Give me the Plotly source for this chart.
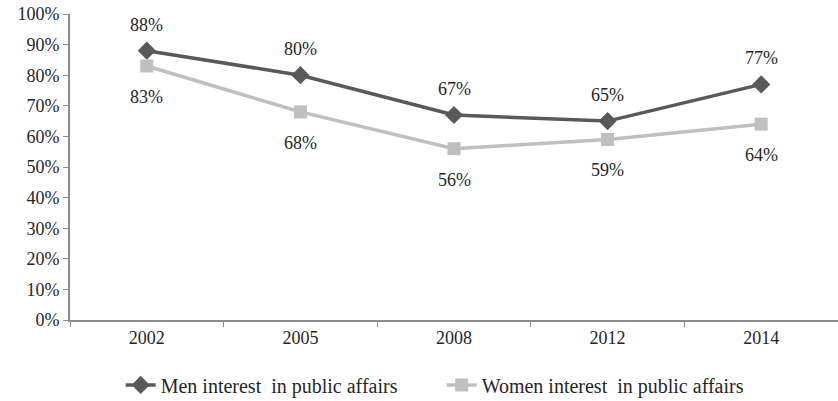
import plotly.graph_objects as go

years = ["2002", "2005", "2008", "2012", "2014"]
men = [88, 80, 67, 65, 77]
women = [83, 68, 56, 59, 64]
y_ticks = list(range(0, 101, 10))

font = "Liberation Serif"
axis_color = "#8c8c8c"
text_color = "#262626"

fig = go.Figure()
fig.add_trace(go.Scatter(
    x=years, y=men, mode="lines+markers",
    name="Men interest  in public affairs",
    line=dict(color="#595959", width=3.5),
    marker=dict(symbol="diamond", size=14, color="#595959"),
    legend="legend",
))
fig.add_trace(go.Scatter(
    x=years, y=women, mode="lines+markers",
    name="Women interest  in public affairs",
    line=dict(color="#bfbfbf", width=3.5),
    marker=dict(symbol="square", size=13, color="#bfbfbf"),
    legend="legend2",
))

# value labels: men above the points, women below (category axis uses index positions)
for i, v in enumerate(men):
    fig.add_annotation(x=i, y=v, text=f"{v}%", showarrow=False, yshift=26,
                       font=dict(family=font, size=18, color=text_color))
for i, v in enumerate(women):
    fig.add_annotation(x=i, y=v, text=f"{v}%", showarrow=False, yshift=-31,
                       font=dict(family=font, size=18, color=text_color))

legend_style = dict(orientation="h", yref="container", y=0.04, yanchor="middle",
                    xref="container", xanchor="left",
                    font=dict(family=font, size=20, color=text_color),
                    bgcolor="rgba(0,0,0,0)")

fig.update_layout(
    width=838, height=401,
    margin=dict(l=70, r=0, t=14, b=81),
    paper_bgcolor="white", plot_bgcolor="white",
    font=dict(family=font, size=18, color=text_color),
    showlegend=True,
    legend=dict(x=0.144, **legend_style),
    legend2=dict(x=0.527, **legend_style),
    xaxis=dict(type="category", range=[-0.5, 4.5], showline=True,
               linecolor=axis_color, linewidth=2, showgrid=False,
               ticks="outside", ticklen=5, tickcolor=axis_color,
               tickson="boundaries", tickfont=dict(family=font, size=18),
               zeroline=False),
    yaxis=dict(range=[0, 100], tickvals=y_ticks,
               ticktext=[f"{v}%" for v in y_ticks],
               showline=True, linecolor=axis_color, linewidth=2,
               showgrid=False, ticks="outside", ticklen=5,
               tickcolor=axis_color, tickfont=dict(family=font, size=18),
               zeroline=False),
)

fig.write_html("out.html")
